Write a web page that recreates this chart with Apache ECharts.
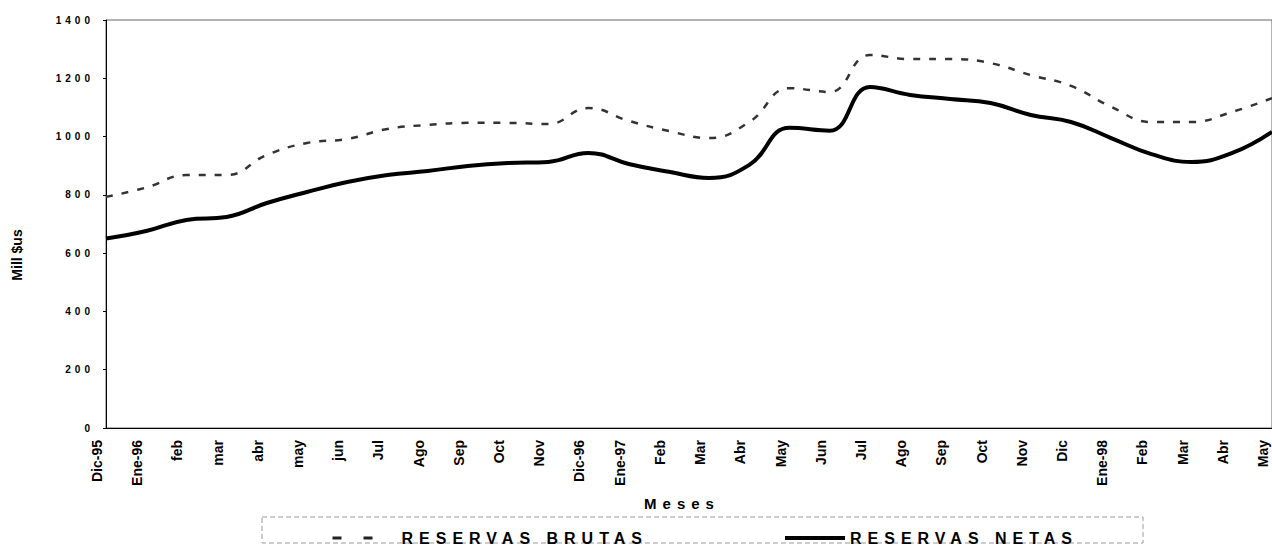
<!DOCTYPE html>
<html>
<head>
<meta charset="utf-8">
<script src="https://cdn.jsdelivr.net/npm/echarts@6/dist/echarts.min.js"></script>
<style>
  html, body { margin: 0; padding: 0; background: #fff; }
  #chart { width: 1272px; height: 546px; }
</style>
</head>
<body>
<div id="chart"></div>
<script>
const categories = ['Dic-95','Ene-96','feb','mar','abr','may','jun','Jul','Ago','Sep','Oct','Nov','Dic-96','Ene-97','Feb','Mar','Abr','May','Jun','Jul','Ago','Sep','Oct','Nov','Dic','Ene-98','Feb','Mar','Abr','May'];
const reservasBrutas = [793,825,868,868,937,978,992,1026,1040,1047,1047,1043,1098,1054,1019,995,1050,1166,1153,1280,1266,1266,1252,1211,1174,1102,1050,1050,1084,1132];
const reservasNetas = [650,676,714,724,772,810,844,868,882,899,909,913,944,906,879,858,903,1030,1020,1170,1143,1129,1115,1074,1050,995,940,913,943,1016];
const yTicks = [0,200,400,600,800,1000,1200,1400];
const seriesNames = ['RESERVAS BRUTAS', 'RESERVAS NETAS'];
const xAxisName = 'Meses';
const yAxisName = 'Mill $us';

const FONT = '"Liberation Sans", Arial, sans-serif';
const chart = echarts.init(document.getElementById('chart'), null, { renderer: 'svg' });

chart.setOption({
  animation: false,
  backgroundColor: '#fff',
  grid: { left: 106, right: 0, top: 20, bottom: 118, show: true, borderColor: '#666', borderWidth: 1 },
  xAxis: {
    type: 'category',
    data: categories,
    boundaryGap: false,
    name: xAxisName,
    nameLocation: 'middle',
    nameGap: 68,
    nameTextStyle: { fontFamily: FONT, fontWeight: 'bold', fontSize: 15, color: '#000', padding: [0, 14, 0, 0] },
    axisLine: { lineStyle: { color: '#000', width: 1 } },
    axisTick: { show: false },
    axisLabel: { rotate: 90, interval: 0, margin: 12, color: '#000', fontFamily: FONT, fontWeight: 'bold', fontSize: 14, verticalAlign: 'bottom', lineHeight: 18 },
    splitLine: { show: false }
  },
  yAxis: {
    type: 'value',
    min: yTicks[0],
    max: yTicks[yTicks.length - 1],
    interval: yTicks[1] - yTicks[0],
    name: yAxisName,
    nameLocation: 'middle',
    nameRotate: 90,
    nameGap: 82,
    nameTextStyle: { fontFamily: FONT, fontWeight: 'bold', fontSize: 14, color: '#000', padding: [0, 62, 0, 0] },
    axisLine: { show: true, lineStyle: { color: '#000', width: 1 } },
    axisTick: { show: true, length: 3, lineStyle: { color: '#000' } },
    axisLabel: { margin: 12, color: '#000', fontFamily: FONT, fontWeight: 'bold', fontSize: 10, formatter: v => String(v) },
    splitLine: { show: false }
  },
  legend: [
    {
      data: [{ name: seriesNames[0], lineStyle: { type: [9, 22], width: 3, color: '#222' }, itemStyle: { opacity: 0 } }],
      left: 326, top: 525, itemWidth: 44, itemHeight: 14,
      textStyle: { fontFamily: FONT, fontWeight: 'bold', fontSize: 16, color: '#000', padding: [0, 0, 0, 20] }
    },
    {
      data: [{ name: seriesNames[1], lineStyle: { width: 4, color: '#000' }, itemStyle: { opacity: 0 } }],
      left: 778, top: 525, itemWidth: 60, itemHeight: 14,
      textStyle: { fontFamily: FONT, fontWeight: 'bold', fontSize: 16, color: '#000' }
    }
  ],
  graphic: [
    { type: 'rect', shape: { x: 262, y: 517, width: 881, height: 26 }, style: { fill: 'none', stroke: '#999', lineWidth: 1, lineDash: [5, 3] }, silent: true }
  ],
  series: [
    {
      name: seriesNames[0], type: 'line', data: reservasBrutas, smooth: 0.45, symbol: 'none',
      lineStyle: { color: '#333', width: 2.5, type: [7, 9] }, itemStyle: { color: '#333' }
    },
    {
      name: seriesNames[1], type: 'line', data: reservasNetas, smooth: 0.45, symbol: 'none',
      lineStyle: { color: '#000', width: 4 }, itemStyle: { color: '#000' }
    }
  ]
});

function applySpacing() {
  const yLabelSet = new Set(yTicks.map(String));
  document.querySelectorAll('#chart svg text').forEach(t => {
    const s = t.textContent;
    if (yLabelSet.has(s)) t.setAttribute('letter-spacing', '4');
    else if (s === xAxisName) t.setAttribute('letter-spacing', '6');
    else if (seriesNames.includes(s)) t.setAttribute('letter-spacing', '6');
  });
}
chart.getZr().flush();
applySpacing();
chart.on('finished', applySpacing);
</script>
</body>
</html>
